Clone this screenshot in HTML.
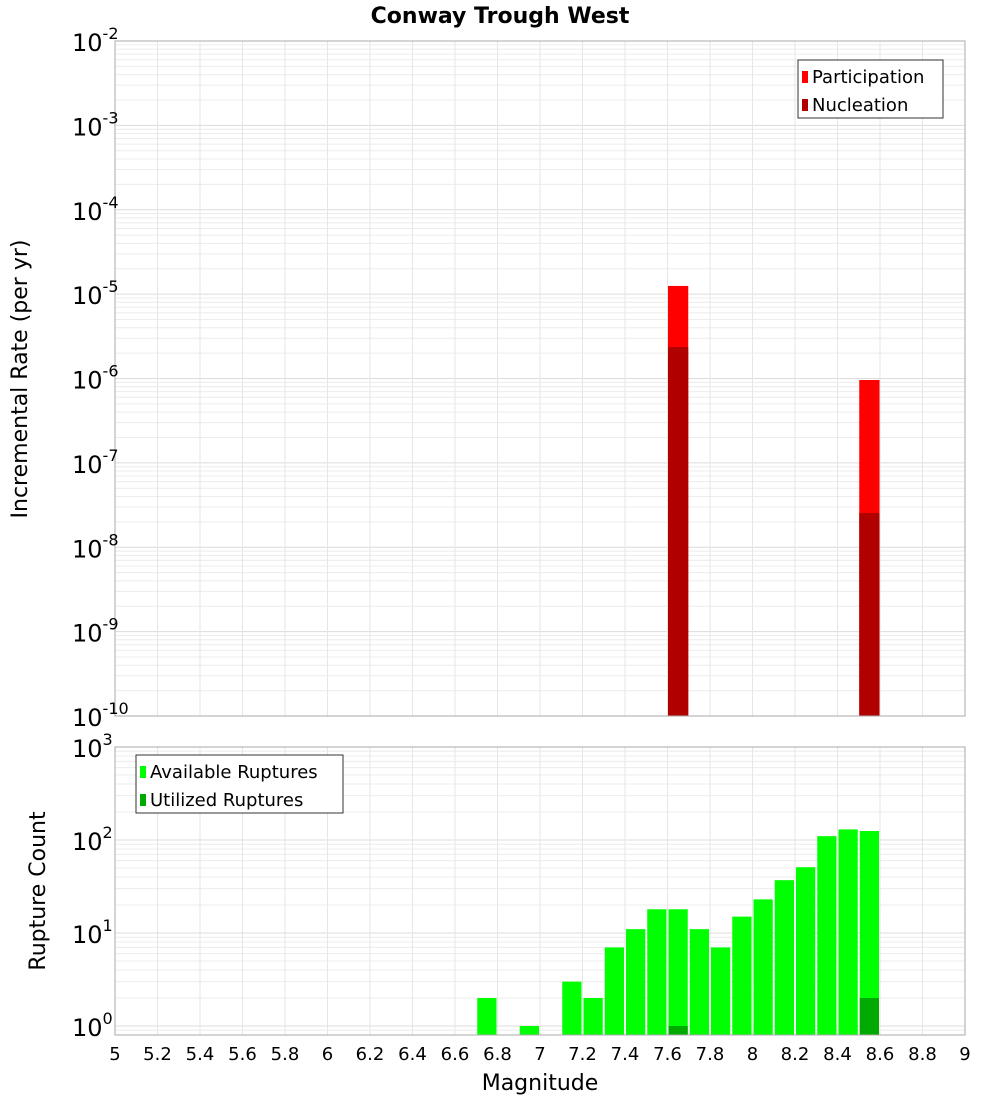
<!DOCTYPE html>
<html><head><meta charset="utf-8"><style>
body{margin:0;background:#fff;font-family:"Liberation Sans","DejaVu Sans",sans-serif}
svg text{font-family:"DejaVu Sans","Liberation Sans",sans-serif}
</style></head><body>
<svg id="c" width="1000" height="1100" xmlns="http://www.w3.org/2000/svg">
<text x="500" y="23" text-anchor="middle" font-size="22" font-weight="bold">Conway Trough West</text>
<text transform="translate(27,379) rotate(-90)" text-anchor="middle" font-size="22">Incremental Rate (per yr)</text>
<text transform="translate(45,891) rotate(-90)" text-anchor="middle" font-size="22">Rupture Count</text>
<text x="540" y="1090" text-anchor="middle" font-size="22">Magnitude</text>
<g id="g"></g>
</svg>
<script>
const partMags=[7.65,8.55];
const partRates=[1.25e-5,9.6e-7];
const nuclMags=[7.65,8.55];
const nuclRates=[2.36e-6,2.55e-8];
const countMags=[6.75,6.95,7.15,7.25,7.35,7.45,7.55,7.65,7.75,7.85,7.95,8.05,8.15,8.25,8.35,8.45,8.55];
const availCounts=[2,1,3,2,7,11,18,18,11,7,15,23,37,51,110,130,125];
const usedMags=[7.65,8.55];
const usedCounts=[1,2];
const xTicks=["5","5.2","5.4","5.6","5.8","6","6.2","6.4","6.6","6.8","7","7.2","7.4","7.6","7.8","8","8.2","8.4","8.6","8.8","9"];
const topExps=[-2,-3,-4,-5,-6,-7,-8,-9,-10];
const botExps=[0,1,2,3];

const NS="http://www.w3.org/2000/svg",g=document.getElementById('g');
function mk(t,a,p){const e=document.createElementNS(NS,t);for(const k in a)e.setAttribute(k,a[k]);(p||g).appendChild(e);return e;}
const X0=115,X1=965;
const x=m=>X0+(m-5)/4*(X1-X0);
const T0=41,T1=716;
const yT=v=>T0+(-2-Math.log10(v))*(T1-T0)/8;
const B0=747,B1=1035,BPD=93,BBASE=1026;
const yB=v=>BBASE-Math.log10(v)*BPD;

// top grid
for(let e=-10;e<-2;e++)for(let k=1;k<10;k++){const y=yT(k*Math.pow(10,e));
const l=mk('line',{x1:X0,x2:X1,y1:y,y2:y,stroke:k==1?'#dcdcdc':'#ececec','stroke-width':1});
}
// bottom grid
for(let e=-1;e<3;e++)for(let k=1;k<10;k++){const v=k*Math.pow(10,e);const y=yB(v);if(y>B1||y<B0)continue;
const l=mk('line',{x1:X0,x2:X1,y1:y,y2:y,stroke:k==1?'#dcdcdc':'#ececec','stroke-width':1});
}
xTicks.forEach(t=>{const xx=x(+t);
[[T0,T1],[B0,B1]].forEach(r=>{const l=mk('line',{x1:xx,x2:xx,y1:r[0],y2:r[1],stroke:'#e6e6e6'});
});
const tx=mk('text',{x:xx,y:1060,'text-anchor':'middle','font-size':18});tx.textContent=t;
});

const bw=(X1-X0)/40;
partMags.forEach((m,i)=>{const r=mk('rect',{x:x(m)-bw/2+0.5,y:yT(partRates[i]),width:bw-1,height:T1-yT(partRates[i]),fill:'#ff0000'});
});
nuclMags.forEach((m,i)=>{const r=mk('rect',{x:x(m)-bw/2+0.5,y:yT(nuclRates[i]),width:bw-1,height:T1-yT(nuclRates[i]),fill:'#b00000'});
});
countMags.forEach((m,i)=>{const r=mk('rect',{x:x(m)-bw/2+1,y:yB(availCounts[i]),width:bw-2,height:B1-yB(availCounts[i]),fill:'#00ff00'});
});
usedMags.forEach((m,i)=>{const r=mk('rect',{x:x(m)-bw/2+1,y:yB(usedCounts[i]),width:bw-2,height:B1-yB(usedCounts[i]),fill:'#00aa00'});
});

const f1=mk('rect',{x:X0,y:T0,width:X1-X0,height:T1-T0,fill:'none',stroke:'#aaa'});

const f2=mk('rect',{x:X0,y:B0,width:X1-X0,height:B1-B0,fill:'none',stroke:'#aaa'});


function ylab(y,e,name){const t=mk('text',{x:72,y:y+10,'font-size':24});

t.innerHTML='10<tspan dy="-12" font-size="16">'+e+'</tspan>';}
topExps.forEach(e=>ylab(yT(Math.pow(10,e)),e,'top-y-tick-label'));
botExps.forEach(e=>ylab(yB(Math.pow(10,e)),e,'bottom-y-tick-label'));

function legend(x0,y0,w,items,name){const b=mk('rect',{x:x0,y:y0,width:w,height:58,fill:'#fff',stroke:'#333'});

items.forEach((it,i)=>{const s=mk('rect',{x:x0+4,y:y0+11+i*28,width:6,height:12,fill:it[1]});

const t=mk('text',{x:x0+14,y:y0+23+i*28,'font-size':18});t.textContent=it[0];
});}
legend(798,60,145,[['Participation','#ff0000'],['Nucleation','#b00000']],'top-legend');
legend(136,755,207,[['Available Ruptures','#00ff00'],['Utilized Ruptures','#00aa00']],'bottom-legend');
</script>
</body></html>
